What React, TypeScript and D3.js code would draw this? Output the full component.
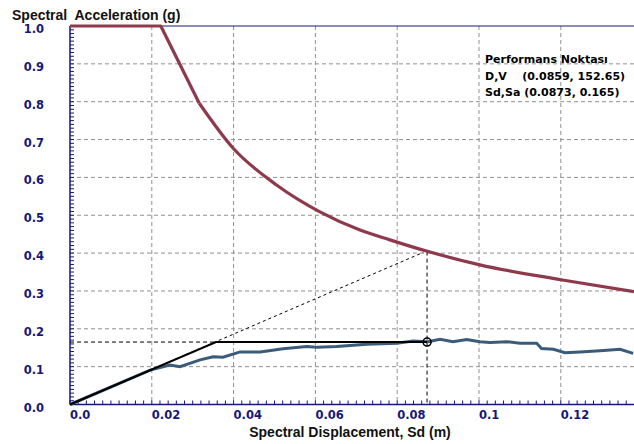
import React from 'react';
import * as d3 from 'd3';

// demand spectrum (ADRS), red
const demandSd = [0, 0.0222, 0.0316, 0.0399, 0.0505, 0.0611, 0.0709, 0.0782, 0.0876, 0.1002, 0.1204, 0.1379];
const demandSa = [1.0, 1.0, 0.796, 0.677, 0.58, 0.509, 0.461, 0.435, 0.404, 0.369, 0.329, 0.298];

// capacity curve, blue
const capacitySd = [0, 0.0196, 0.0244, 0.0269, 0.0318, 0.035, 0.0374, 0.0416, 0.0465, 0.0521, 0.0579, 0.0603, 0.0652,
  0.0725, 0.0799, 0.0839, 0.0875, 0.0905, 0.0936, 0.097, 0.1002, 0.1027, 0.1068, 0.11, 0.1141, 0.1153, 0.1182,
  0.121, 0.1247, 0.1296, 0.1345, 0.1377];
const capacitySa = [0, 0.091, 0.104, 0.1, 0.118, 0.126, 0.125, 0.139, 0.139, 0.147, 0.153, 0.151, 0.153,
  0.159, 0.162, 0.168, 0.166, 0.172, 0.166, 0.172, 0.166, 0.164, 0.166, 0.162, 0.162, 0.148, 0.146,
  0.137, 0.139, 0.142, 0.146, 0.135];

// bilinear idealisation, black
const bilinearSd = [0, 0.0357, 0.0873];
const bilinearSa = [0, 0.165, 0.165];

const perfSd = 0.0873;
const perfSa = 0.165;
const demandHitSd = 0.0864; // dashed line meets demand curve
const demandHitSa = 0.402;
const perfDemandSa = 0.404;

const xTicks = [0, 0.02, 0.04, 0.06, 0.08, 0.1, 0.12];
const xTickLabels = ['0.0', '0.02', '0.04', '0.06', '0.08', '0.1', '0.12'];
const yTicks = [0, 0.1, 0.2, 0.3, 0.4, 0.5, 0.6, 0.7, 0.8, 0.9, 1.0];

const legendLines = ['Performans Noktası', 'D,V    (0.0859, 152.65)', 'Sd,Sa (0.0873, 0.165)'];

const W = 634;
const H = 444;
const left = 70;
const top = 26;
const bottom = 404.5;

export default function App() {
  const x = d3.scaleLinear().domain([0, 0.1379]).range([left, W]);
  const y = d3.scaleLinear().domain([0, 1]).range([bottom, top]);

  const line = d3.line<[number, number]>().x(d => x(d[0])).y(d => y(d[1]));
  const smooth = d3.line<[number, number]>().x(d => x(d[0])).y(d => y(d[1])).curve(d3.curveMonotoneX);
  const demandPts = demandSd.map((v, i) => [v, demandSa[i]] as [number, number]);
  const demandHead = line(demandPts.slice(0, 3))!;
  const demandTail = smooth(demandPts.slice(2))!;
  const capacity = line(capacitySd.map((v, i) => [v, capacitySa[i]]))!;
  const bilinear = line(bilinearSd.map((v, i) => [v, bilinearSa[i]]))!;

  const xMinor = d3.range(0, 0.1379, 0.002);
  const yMinor = d3.range(0, 1.0001, 0.01);
  const navy = '#17177a';
  const red = '#8e3a4c';

  return (
    <svg width={W} height={H} style={{ position: 'absolute', left: 0, top: 0, background: '#fff' }}>
      <rect x={0} y={0} width={W} height={H} fill="#fff" />
      {/* grid */}
      {xTicks.slice(1).map(t => (
        <line key={'gx' + t} x1={x(t)} x2={x(t)} y1={top} y2={bottom} stroke="#919191" strokeDasharray="4,3" />
      ))}
      {yTicks.slice(1, -1).map(t => (
        <line key={'gy' + t} x1={left} x2={W} y1={y(t)} y2={y(t)} stroke="#919191" strokeDasharray="4,3" />
      ))}

      {/* axes */}
      <line x1={left} x2={W} y1={top} y2={top} stroke={navy} />
      <line x1={left} x2={left} y1={top} y2={bottom} stroke={navy} strokeWidth={1.5} />
      <line x1={left} x2={W} y1={bottom} y2={bottom} stroke={navy} strokeWidth={1.5} />
      {xMinor.map(t => (
        <line key={'mx' + t} x1={x(t)} x2={x(t)} y1={bottom} y2={bottom - 4} stroke={navy} />
      ))}
      {yMinor.map(t => (
        <line key={'my' + t} x1={left} x2={left + 4} y1={y(t)} y2={y(t)} stroke={navy} />
      ))}

      {/* helper lines */}
      <line x1={x(0)} y1={y(0)} x2={x(demandHitSd)} y2={y(demandHitSa)} stroke="#000" strokeDasharray="3,3" />
      <line x1={left} x2={x(perfSd)} y1={y(perfSa)} y2={y(perfSa)} stroke="#000" strokeDasharray="4,3" />
      <line x1={x(perfSd)} x2={x(perfSd)} y1={y(perfDemandSa)} y2={bottom} stroke="#000" strokeDasharray="4,3" />

      {/* curves */}
      <path d={demandHead} fill="none" stroke={red} strokeWidth={3.2} strokeLinejoin="round" />
      <path d={demandTail} fill="none" stroke={red} strokeWidth={3.2} strokeLinejoin="round" />
      <path d={capacity} fill="none" stroke="#3b5b7a" strokeWidth={3} />
      <path d={bilinear} fill="none" stroke="#000" strokeWidth={2} />
      <circle cx={x(perfSd)} cy={y(perfSa)} r={4} fill="none" stroke="#000" strokeWidth={1.6} />

      {/* tick labels */}
      {yTicks.map(t => (
        <text key={'ly' + t} x={44} y={y(t) + 7} textAnchor="end" fontFamily="DejaVu Sans" fontWeight="bold" fontSize={11.5} fill={navy}>
          {t.toFixed(1)}
        </text>
      ))}
      {xTicks.map((t, i) => (
        <text key={'lx' + t} x={x(t)} y={419} fontFamily="DejaVu Sans" fontWeight="bold" fontSize={11.5} fill={navy}>
          {xTickLabels[i]}
        </text>
      ))}

      {/* titles */}
      <text x={12} y={20} fontFamily="Liberation Sans" fontWeight="bold" fontSize={14} fill="#111" style={{ whiteSpace: 'pre' }}>Spectral  Acceleration (g)</text>
      <text x={350} y={437} textAnchor="middle" fontFamily="Liberation Sans" fontWeight="bold" fontSize={14} fill="#111">
        Spectral Displacement, Sd (m)
      </text>

      {/* legend */}
      {legendLines.map((s, i) => (
        <text key={s} x={485} y={63 + i * 16.5} fontFamily="DejaVu Sans" fontWeight="bold" fontSize={11} fill="#000" style={{ whiteSpace: 'pre' }}>
          {s}
        </text>
      ))}
    </svg>
  );
}
